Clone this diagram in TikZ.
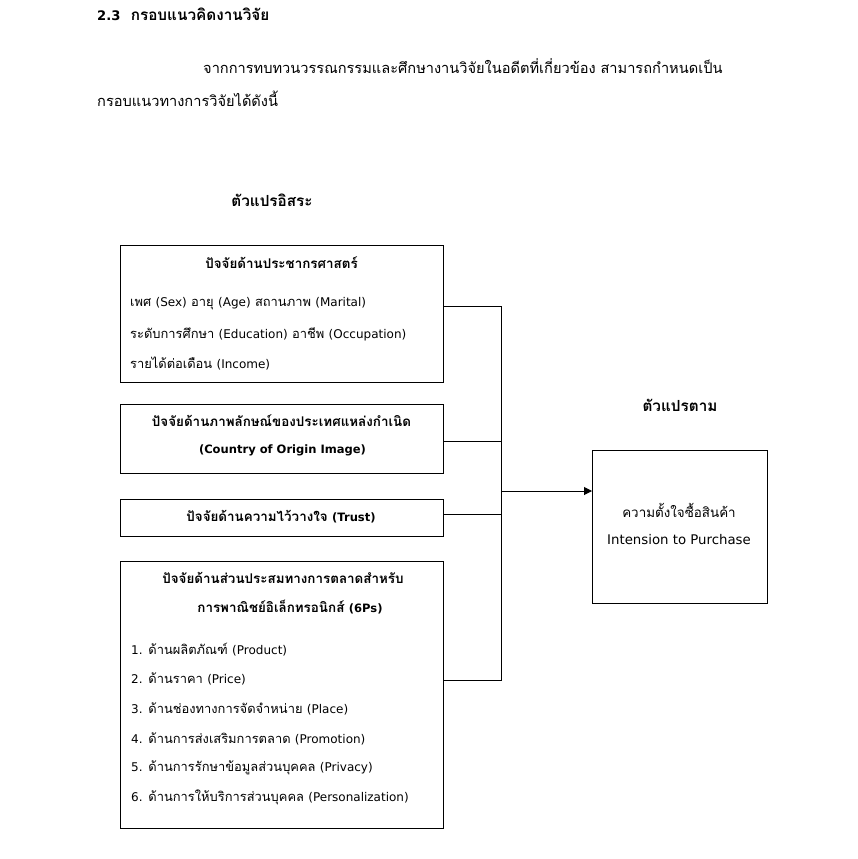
\documentclass[tikz,border=0pt]{standalone}
\usepackage{fontspec}
\setmainfont{Loma}[Script=Thai]
\newfontfamily\lat{DejaVu Sans}[Scale=0.93, BoldFeatures={Scale=0.86}]
\newcommand{\en}[1]{{\lat #1}}
\usetikzlibrary{arrows.meta}
\begin{document}
\begin{tikzpicture}[x=1pt,y=-1pt,
  box/.style={draw,line width=1.1pt,inner sep=0pt,anchor=north west},
  txt/.style={font=\fontsize{13.4}{15}\selectfont,inner sep=0pt},
  ltxt/.style={font=\fontsize{12.9}{15}\selectfont,inner sep=0pt,anchor=west},
  btxt/.style={font=\fontsize{13.4}{15}\selectfont\bfseries,inner sep=0pt},
  htxt/.style={font=\fontsize{15.3}{17}\selectfont\bfseries,inner sep=0pt},
  ptxt/.style={font=\fontsize{14.6}{16}\selectfont,inner sep=0pt,anchor=west},
  conn/.style={line width=1pt}]
\useasboundingbox (0,0) rectangle (857,859);
\fill[white] (0,0) rectangle (857,859);
% heading and paragraph
\node[htxt,anchor=west] (head) at (97,14) {\en{2.3}\ \ กรอบแนวคิดงานวิจัย};
\node[ptxt] (p1) at (203,66) {จากการทบทวนวรรณกรรมและศึกษางานวิจัยในอดีตที่เกี่ยวข้อง สามารถกำหนดเป็น};
\node[ptxt] (p2) at (97,99) {กรอบแนวทางการวิจัยได้ดังนี้};
% labels
\node[htxt] (indep) at (272,200) {ตัวแปรอิสระ};
\node[htxt] (dep) at (680,405) {ตัวแปรตาม};
% boxes
\node[box,minimum width=323,minimum height=137] (b1) at (120,245) {};
\node[box,minimum width=323,minimum height=69] (b2) at (120,404) {};
\node[box,minimum width=323,minimum height=37] (b3) at (120,499) {};
\node[box,minimum width=323,minimum height=267] (b4) at (120,561) {};
\node[box,minimum width=175,minimum height=153] (b5) at (592,450) {};
% box 1 text
\node[btxt] (b1t) at (281.5,263) {ปัจจัยด้านประชากรศาสตร์};
\node[ltxt] (b1a) at (130,304) {เพศ \en{(Sex)} อายุ \en{(Age)} สถานภาพ \en{(Marital)}};
\node[ltxt] (b1b) at (130,334) {ระดับการศึกษา \en{(Education)} อาชีพ \en{(Occupation)}};
\node[ltxt] (b1c) at (130,363) {รายได้ต่อเดือน \en{(Income)}};
% box 2 text
\node[btxt] (b2t) at (281.5,421) {ปัจจัยด้านภาพลักษณ์ของประเทศแหล่งกำเนิด};
\node[btxt] (b2u) at (282.5,450) {\en{(Country of Origin Image)}};
% box 3 text
\node[btxt] (b3t) at (281,517) {ปัจจัยด้านความไว้วางใจ \en{(Trust)}};
% box 4 text
\node[btxt] (b4t) at (283,578) {ปัจจัยด้านส่วนประสมทางการตลาดสำหรับ};
\node[btxt] (b4u) at (290,607) {การพาณิชย์อิเล็กทรอนิกส์ \en{(6Ps)}};
\node[ltxt] (i1) at (131,650) {\en{1.} ด้านผลิตภัณฑ์ \en{(Product)}};
\node[ltxt] (i2) at (131,679) {\en{2.} ด้านราคา \en{(Price)}};
\node[ltxt] (i3) at (131,709) {\en{3.} ด้านช่องทางการจัดจำหน่าย \en{(Place)}};
\node[ltxt] (i4) at (131,739) {\en{4.} ด้านการส่งเสริมการตลาด \en{(Promotion)}};
\node[ltxt] (i5) at (131,768) {\en{5.} ด้านการรักษาข้อมูลส่วนบุคคล \en{(Privacy)}};
\node[ltxt] (i6) at (131,797) {\en{6.} ด้านการให้บริการส่วนบุคคล \en{(Personalization)}};
% box 5 text
\node[txt] (b5t) at (679,510) {ความตั้งใจซื้อสินค้า};
\node[txt,font=\fontsize{14.3}{16}\selectfont] (b5u) at (679,540) {\en{Intension to Purchase}};
% connectors
\coordinate (j1) at (501,306);
\coordinate (j2) at (501,441);
\coordinate (j3) at (501,514);
\coordinate (j4) at (501,680);
\coordinate (jm) at (501,491);
\draw[conn] (b1.east |- j1) -- (j1) -- (j4) -- (b4.east |- j4);
\draw[conn] (b2.east |- j2) -- (j2);
\draw[conn] (b3.east |- j3) -- (j3);
\draw[conn,-{Triangle[length=8pt,width=8pt]}] (jm) -- (b5.west |- jm);
\end{tikzpicture}
\end{document}
